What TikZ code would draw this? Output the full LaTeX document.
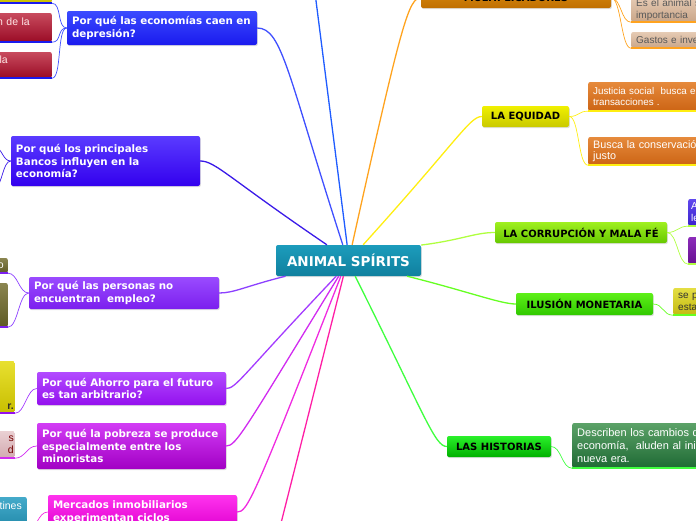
\documentclass[tikz,border=0pt]{standalone}
\usepackage{fontspec}
\setmainfont{DejaVu Sans}
\newfontfamily\leaffont{Liberation Sans}
\usepackage{xcolor}
\usepackage{tikz}
\usetikzlibrary{shadows}
\hyphenpenalty=10000

% hub and questions
\definecolor{hubTop}{HTML}{1C9CBC}\definecolor{hubBot}{HTML}{10809E}
\definecolor{depTop}{HTML}{3B4BFF}\definecolor{depBot}{HTML}{1A1AEE}\definecolor{depLine}{HTML}{4050FF}
\definecolor{bancTop}{HTML}{5A3BFF}\definecolor{bancBot}{HTML}{3300EE}\definecolor{bancLine}{HTML}{3A1AE8}
\definecolor{empTop}{HTML}{9A4BFF}\definecolor{empBot}{HTML}{7B1FEE}\definecolor{empLine}{HTML}{8C40FF}
\definecolor{ahoTop}{HTML}{B24BFF}\definecolor{ahoBot}{HTML}{9410EE}\definecolor{ahoLine}{HTML}{A33BFF}
\definecolor{pobTop}{HTML}{D23CF5}\definecolor{pobBot}{HTML}{A200C4}\definecolor{pobLine}{HTML}{D12BF0}
\definecolor{inmTop}{HTML}{FF33EE}\definecolor{inmBot}{HTML}{E000D0}\definecolor{inmLine}{HTML}{F02BE0}
\definecolor{topLine}{HTML}{1F5CFF}\definecolor{botLine}{HTML}{FF1FA5}
% themes
\definecolor{multTop}{HTML}{D88B12}\definecolor{multBot}{HTML}{C06F00}\definecolor{multLine}{HTML}{FFA31F}
\definecolor{eqTop}{HTML}{F0F000}\definecolor{eqBot}{HTML}{C9C900}\definecolor{eqLine}{HTML}{FFEE11}
\definecolor{corrTop}{HTML}{A0F020}\definecolor{corrBot}{HTML}{66C800}\definecolor{corrLine}{HTML}{B0FF40}
\definecolor{ilusTop}{HTML}{5EF018}\definecolor{ilusBot}{HTML}{30C800}\definecolor{ilusLine}{HTML}{66FF22}
\definecolor{histTop}{HTML}{2AF02A}\definecolor{histBot}{HTML}{00B000}\definecolor{histLine}{HTML}{40FF40}
% leaves
\definecolor{ylwTop}{HTML}{E8E030}\definecolor{ylwBot}{HTML}{C8BE00}
\definecolor{redTop}{HTML}{C84B5E}\definecolor{redBot}{HTML}{9A0B25}
\definecolor{oliTop}{HTML}{8A8550}\definecolor{oliBot}{HTML}{5E5A25}
\definecolor{pinkTop}{HTML}{EAD0D3}\definecolor{pinkBot}{HTML}{D2AAB0}
\definecolor{tealTop}{HTML}{44AACA}\definecolor{tealBot}{HTML}{2088A8}
\definecolor{tanTop}{HTML}{E6CBB4}\definecolor{tanBot}{HTML}{C9A588}
\definecolor{oraTop}{HTML}{E68A3C}\definecolor{oraBot}{HTML}{CC6414}
\definecolor{indTop}{HTML}{6048EE}\definecolor{indBot}{HTML}{3A22CC}
\definecolor{purTop}{HTML}{8C2CBA}\definecolor{purBot}{HTML}{661090}
\definecolor{mustTop}{HTML}{E4DE44}\definecolor{mustBot}{HTML}{C4BA10}
\definecolor{forTop}{HTML}{5CA268}\definecolor{forBot}{HTML}{1E6A34}

\begin{document}
\begin{tikzpicture}[
    x=1pt, y=-1pt,
    paint/.style 2 args={top color=#1, bottom color=#2},
    lift/.style={drop shadow={opacity=0.25, shadow xshift=0.8pt, shadow yshift=-1.2pt}},
    hub/.style={rectangle, rounded corners=2pt, minimum width=145pt, minimum height=31pt, text=white,
        font=\fontsize{13.5}{16}\selectfont\bfseries, paint={hubTop}{hubBot}, lift},
    question/.style={rectangle, rounded corners=2pt, inner xsep=5pt, inner ysep=0pt, align=left,
        text=white, font=\fontsize{10.3}{12.8}\selectfont\bfseries, lift},
    theme/.style={rectangle, rounded corners=2pt, minimum height=21pt, inner sep=0pt, text=black,
        font=\fontsize{10}{12}\selectfont\bfseries, lift},
    leafR/.style={rectangle, rounded corners=2pt, inner xsep=5pt, inner ysep=0pt, text width=130pt,
        align=left, anchor=west, font=\leaffont\fontsize{10}{12}\selectfont},
    leafL/.style={rectangle, rounded corners=2pt, inner ysep=0pt, text width=60pt,
        align=right, anchor=east, font=\leaffont\fontsize{10.5}{12}\selectfont},
    trunk/.style={line width=1.3pt},
    twig/.style={line width=0.7pt},
    bar/.style={line width=2.5pt}
]
    \useasboundingbox (0,0) rectangle (696,520);
    \clip (0,0) rectangle (696,520);

    % Central topic
    \node[hub] (spirits) at (348.5,260.5) {ANIMAL SPÍRITS};

    % Questions (left)
    \node[question, text width=180pt, minimum height=34pt, paint={depTop}{depBot}] (depresion) at (162,28) {Por qué las economías caen en\\depresión?};
    \node[question, text width=179pt, minimum height=50pt, paint={bancTop}{bancBot}] (bancos) at (105.5,161) {Por qué los principales\\Bancos influyen en la\\economía?};
    \node[question, text width=180pt, minimum height=32pt, paint={empTop}{empBot}] (empleo) at (124,293) {Por qué las personas no\\encuentran~ empleo?};
    \node[question, text width=179pt, minimum height=33pt, paint={ahoTop}{ahoBot}] (ahorro) at (131.5,388.5) {Por qué Ahorro para el futuro\\es tan arbitrario?};
    \node[question, text width=179pt, minimum height=46pt, paint={pobTop}{pobBot}] (pobreza) at (131.5,446) {Por qué la pobreza se produce\\especialmente entre los\\minoristas};
    \node[question, text width=179pt, minimum height=34pt, paint={inmTop}{inmBot}] (inmuebles) at (142.5,512) {Mercados inmobiliarios\\experimentan ciclos};

    % Themes (right)
    \node[theme, minimum width=190pt, minimum height=20pt, paint={multTop}{multBot}] (multi) at (516,-2) {MULTIPLICADORES};
    \node[theme, minimum width=87pt, paint={eqTop}{eqBot}] (equidad) at (525.5,116.5) {LA EQUIDAD};
    \node[theme, minimum width=172pt, paint={corrTop}{corrBot}] (corrupcion) at (581,232.5) {LA CORRUPCIÓN Y MALA FÉ};
    \node[theme, minimum width=137pt, minimum height=22pt, paint={ilusTop}{ilusBot}] (ilusion) at (584.5,304) {ILUSIÓN MONETARIA};
    \node[theme, minimum width=104pt, paint={histTop}{histBot}] (historias) at (499,446.5) {LAS HISTORIAS};

    % Leaves (right)
    \node[leafR, minimum height=25pt, paint={tanTop}{tanBot}, text=black!65] (animal) at (631,9.5) {Es el animal s\\importancia};
    \node[leafR, minimum height=16pt, paint={tanTop}{tanBot}, text=black!65] (gastos) at (631,40) {Gastos e inve};
    \node[leafR, minimum height=29pt, paint={oraTop}{oraBot}, text=white, font=\leaffont\fontsize{9.8}{11.5}\selectfont] (justicia) at (588,96.5) {Justicia social~ busca e\\transacciones .};
    \node[leafR, minimum height=28pt, paint={oraTop}{oraBot}, text=white, font=\leaffont\fontsize{10.8}{11.5}\selectfont] (conserva) at (588,151) {Busca la conservació\\justo};
    \node[leafR, minimum height=27pt, paint={indTop}{indBot}, text=white, inner xsep=3pt] (corrA) at (688,212.5) {A\\le};
    \node[leafR, minimum height=27pt, paint={purTop}{purBot}] (corrB) at (688,250.5) {};
    \node[leafR, minimum height=27pt, paint={mustTop}{mustBot}, text=black!80] (ilusA) at (673,301.5) {se p\\esta};
    \node[leafR, minimum height=45pt, paint={forTop}{forBot}, text=white, font=\leaffont\fontsize{11}{13.3}\selectfont] (describen) at (572,445.5) {Describen los cambios q\\economía,~ aluden al inic\\nueva era.};

    % Leaves (left)
    \node[leafL, minimum height=25pt, paint={ylwTop}{ylwBot}, inner xsep=2pt] (depA) at (52,-9.5) {};
    \node[leafL, minimum height=29pt, paint={redTop}{redBot}, text=white!90!red, inner xsep=22pt, text depth=11pt] (depB) at (52,27.5) {n de la};
    \node[leafL, minimum height=26pt, paint={redTop}{redBot}, text=white!90!red, inner xsep=44pt, text depth=10pt] (depC) at (52,65) {la};
    \node[leafL, minimum height=15pt, paint={oliTop}{oliBot}, text=white, inner xsep=4pt] (empA) at (8,265.5) {o};
    \node[leafL, minimum height=44pt, paint={oliTop}{oliBot}, inner xsep=2pt] (empB) at (8,305) {};
    \node[leafL, minimum height=52pt, paint={ylwTop}{ylwBot}, text=black!85!olive, inner xsep=1pt, text height=45pt, font=\leaffont\fontsize{10.5}{12}\selectfont\bfseries] (ahoA) at (15,387) {r.};
    \node[leafL, minimum height=27pt, paint={pinkTop}{pinkBot}, text=red!45!black, inner xsep=1pt] (pobA) at (15,444.5) {s\\d};
    \node[leafL, minimum height=33pt, paint={tealTop}{tealBot}, text=white, inner xsep=5pt, text depth=15pt] (inmA) at (27,513.5) {tines};

    % Off-picture ends
    \coordinate (upper) at (314,-15);
    \coordinate (lower) at (278,535);
    \coordinate (bancA) at (-4,148);
    \coordinate (bancB) at (-4,186);

    % Branches from the hub
    \draw[trunk, depLine] (spirits.110) .. controls +(-55,-170) and +(25,0) .. (depresion.east);
    \draw[trunk, bancLine] (spirits.144) .. controls +(-100,-68) and +(15,0) .. (bancos.east);
    \draw[trunk, topLine] (spirits.95) -- (upper);
    \draw[trunk, multLine] (spirits.77) .. controls +(50,-225) and +(-12,0) .. (multi.west);
    \draw[trunk, eqLine] (spirits.47) .. controls +(95,-105) and +(-12,0) .. (equidad.west);
    \draw[trunk, corrLine] (spirits.12) .. controls +(40,-5) and +(-20,0) .. (corrupcion.west);
    \draw[trunk, ilusLine] (spirits.-15) .. controls +(60,15) and +(-15,0) .. (ilusion.west);
    \draw[trunk, histLine] (spirits.-67) .. controls +(70,140) and +(-12,0) .. (historias.west);
    \draw[trunk, empLine] (spirits.194) .. controls +(-40,10) and +(15,0) .. (empleo.east);
    \draw[trunk, ahoLine] (spirits.232) .. controls +(-95,100) and +(10,0) .. (ahorro.east);
    \draw[trunk, pobLine] (spirits.238) .. controls +(-95,155) and +(10,0) .. (pobreza.east);
    \draw[trunk, inmLine] (spirits.244) .. controls +(-88,225) and +(10,0) .. (inmuebles.east);
    \draw[trunk, botLine] (spirits.252) -- (lower);

    % Twigs to the leaves
    \draw[twig, multLine] (multi.east) .. controls +(10,0) and +(-10,0) .. (animal.south west);
    \draw[twig, multLine] (multi.east) .. controls +(10,0) and +(-10,0) .. (gastos.south west);
    \draw[twig, eqLine] (equidad.east) .. controls +(10,0) and +(-10,0) .. (justicia.south west);
    \draw[twig, eqLine] (equidad.east) .. controls +(10,0) and +(-10,0) .. (conserva.south west);
    \draw[twig, corrLine] (corrupcion.east) .. controls +(10,0) and +(-10,0) .. (corrA.south west);
    \draw[twig, corrLine] (corrupcion.east) .. controls +(10,0) and +(-10,0) .. (corrB.south west);
    \draw[twig, ilusLine] (ilusion.east) .. controls +(10,0) and +(-10,0) .. (ilusA.south west);
    \draw[twig, histLine] (historias.east) .. controls +(10,0) and +(-10,0) .. (describen.south west);
    \draw[twig, depLine] (depresion.west) .. controls +(-10,0) and +(10,0) .. (depA.south east);
    \draw[twig, depLine] (depresion.west) .. controls +(-10,0) and +(10,0) .. (depB.south east);
    \draw[twig, depLine] (depresion.west) .. controls +(-10,0) and +(10,0) .. (depC.south east);
    \draw[twig, bancLine] (bancos.west) .. controls +(-8,0) and +(6,0) .. (bancA);
    \draw[twig, bancLine] (bancos.west) .. controls +(-8,0) and +(6,0) .. (bancB);
    \draw[twig, empLine] (empleo.west) .. controls +(-10,0) and +(10,0) .. (empA.south east);
    \draw[twig, empLine] (empleo.west) .. controls +(-10,0) and +(10,0) .. (empB.south east);
    \draw[twig, ahoLine] (ahorro.west) .. controls +(-10,0) and +(10,0) .. (ahoA.south east);
    \draw[twig, pobLine] (pobreza.west) .. controls +(-10,0) and +(10,0) .. (pobA.south east);
    \draw[twig, inmLine] (inmuebles.west) .. controls +(-10,0) and +(10,0) .. (inmA.south east);

    % Underlines
    \draw[bar, multLine] (animal.south west) -- (animal.south east);
    \draw[bar, multLine] (gastos.south west) -- (gastos.south east);
    \draw[bar, eqLine] (justicia.south west) -- (justicia.south east);
    \draw[bar, eqLine] (conserva.south west) -- (conserva.south east);
    \draw[bar, corrLine] (corrA.south west) -- (corrA.south east);
    \draw[bar, corrLine] (corrB.south west) -- (corrB.south east);
    \draw[bar, ilusLine] (ilusA.south west) -- (ilusA.south east);
    \draw[bar, histLine] (describen.south west) -- (describen.south east);
    \draw[bar, depBot] (depA.south west) -- (depA.south east);
    \draw[bar, depBot] (depB.south west) -- (depB.south east);
    \draw[bar, depBot] (depC.south west) -- (depC.south east);
    \draw[bar, empBot] (empA.south west) -- (empA.south east);
    \draw[bar, empBot] (empB.south west) -- (empB.south east);
    \draw[bar, ahoBot] (ahoA.south west) -- (ahoA.south east);
    \draw[bar, pobLine] (pobA.south west) -- (pobA.south east);
    \draw[bar, inmLine] (inmA.south west) -- (inmA.south east);
\end{tikzpicture}
\end{document}
